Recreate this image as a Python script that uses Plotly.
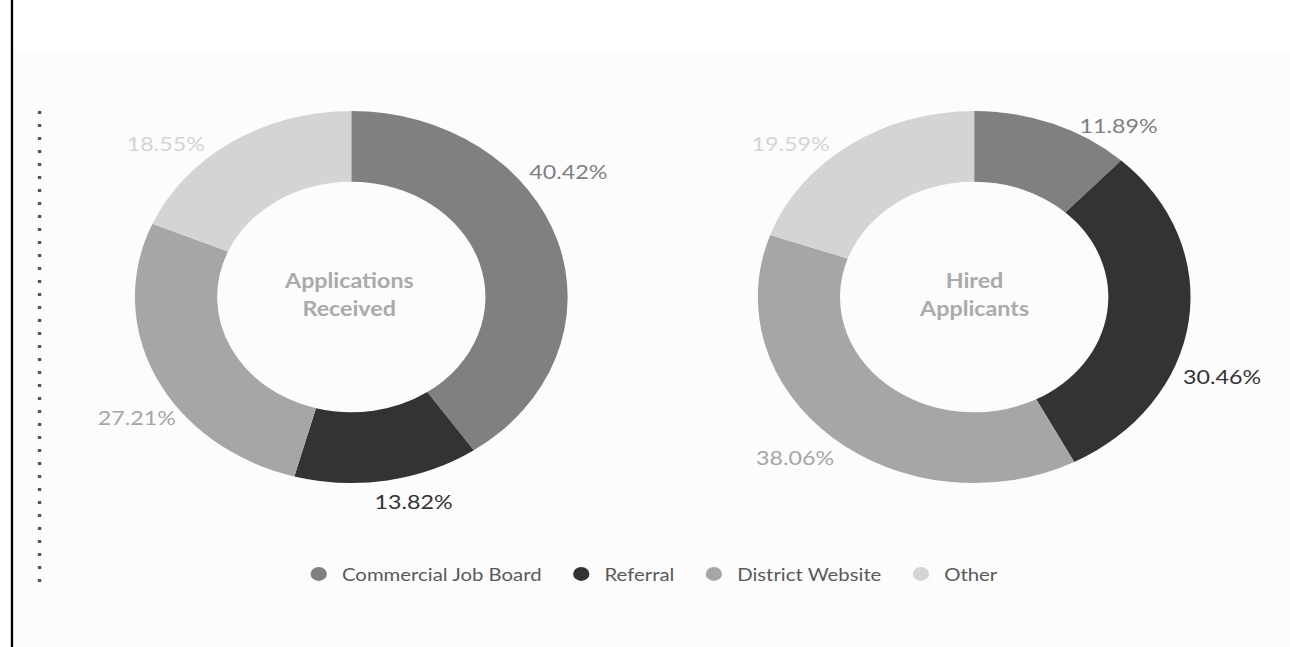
import plotly.graph_objects as go

# Recruitment source breakdown
sources = ["Commercial Job Board", "Referral", "District Website", "Other"]
applications_pct = [40.42, 13.82, 27.21, 18.55]
hired_pct = [11.89, 30.46, 38.06, 19.59]
source_colors = ["#808080", "#333333", "#a6a6a6", "#d4d4d4"]
center_titles = [["Applications", "Received"], ["Hired", "Applicants"]]

W, H = 1109, 647          # drawn size before the horizontal stretch
STRETCH = 1290 / W
FONT = "Lato"


def px_x(v):
    return v / W


def px_y(v):
    return 1 - v / H


fig = go.Figure()

# Donut geometry (pixels in the unstretched frame)
radius = 186
cy = 297
centers_x = [302, 837.5]
title_x = [299.5, 837.5]

# Where each percentage label sits, per donut and slice (pixels)
label_pos = [
    [(488.7, 171), (355.1, 501), (117.5, 417), (142.7, 143)],
    [(961.6, 125), (1050.6, 376), (683.5, 457), (679.2, 143)],
]

for i, (vals, cx) in enumerate(zip([applications_pct, hired_pct], centers_x)):
    fig.add_trace(go.Pie(
        labels=sources,
        values=vals,
        sort=False,
        direction="clockwise",
        rotation=0,
        hole=0.62,
        marker=dict(colors=source_colors, line=dict(width=0)),
        textinfo="none",
        domain=dict(x=[px_x(cx - radius), px_x(cx + radius)],
                    y=[px_y(cy + radius), px_y(cy - radius)]),
        showlegend=False,
        hoverinfo="label+percent",
    ))
    # centre title, one annotation per line
    for line_text, ly in zip(center_titles[i], [280, 308]):
        fig.add_annotation(
            x=px_x(title_x[i]), y=px_y(ly), xref="paper", yref="paper",
            xanchor="center", yanchor="middle",
            text=f"<b>{line_text}</b>", showarrow=False,
            font=dict(family=FONT, size=20, color="#aaaaaa"),
        )
    # outside percentage labels
    for v, col, (lx, ly) in zip(vals, source_colors, label_pos[i]):
        fig.add_annotation(
            x=px_x(lx), y=px_y(ly), xref="paper", yref="paper",
            xanchor="center", yanchor="middle",
            text=f"{v:.2f}%", showarrow=False,
            font=dict(family=FONT, size=20, color=col),
        )

# Circle markers for the legend
legend_pad = "\u00a0" * 2
for k, (name, col) in enumerate(zip(sources, source_colors)):
    fig.add_trace(go.Scatter(
        x=[None], y=[None], mode="markers",
        name=name + (legend_pad if k < len(sources) - 1 else ""),
        marker=dict(symbol="circle", size=14, color=col),
        showlegend=True, hoverinfo="skip",
    ))

shapes = [
    # panel background
    dict(type="rect", xref="paper", yref="paper",
         x0=px_x(12), x1=1, y0=0, y1=px_y(52),
         fillcolor="#fcfcfc", line=dict(width=0), layer="below"),
    # left border
    dict(type="line", xref="paper", yref="paper",
         x0=px_x(10.3), x1=px_x(10.3), y0=0, y1=1,
         line=dict(color="#000000", width=2)),
    # dotted divider
    dict(type="line", xref="paper", yref="paper",
         x0=px_x(34), x1=px_x(34), y0=px_y(582), y1=px_y(103),
         line=dict(color="#555555", width=3, dash="3px,10px")),
]

fig.update_layout(
    width=W, height=H,
    margin=dict(l=0, r=0, t=0, b=0),
    paper_bgcolor="#ffffff",
    plot_bgcolor="rgba(0,0,0,0)",
    xaxis=dict(visible=False),
    yaxis=dict(visible=False),
    shapes=shapes,
    legend=dict(
        orientation="h", x=px_x(559), y=px_y(574),
        xanchor="center", yanchor="middle",
        font=dict(family=FONT, size=17.5, color="#595959"),
        bgcolor="rgba(0,0,0,0)", itemsizing="trace",
    ),
    font=dict(family=FONT),
)

stretch_js = (
    "var gd = document.getElementById('{plot_id}');"
    "gd.style.transformOrigin = '0 0';"
    f"gd.style.transform = 'scaleX({STRETCH:.4f})';"
    "document.body.style.margin = '0';"
    "document.body.style.overflow = 'hidden';"
)

fig.write_html("out.html", default_width=f"{W}px", default_height=f"{H}px",
               post_script=stretch_js)
